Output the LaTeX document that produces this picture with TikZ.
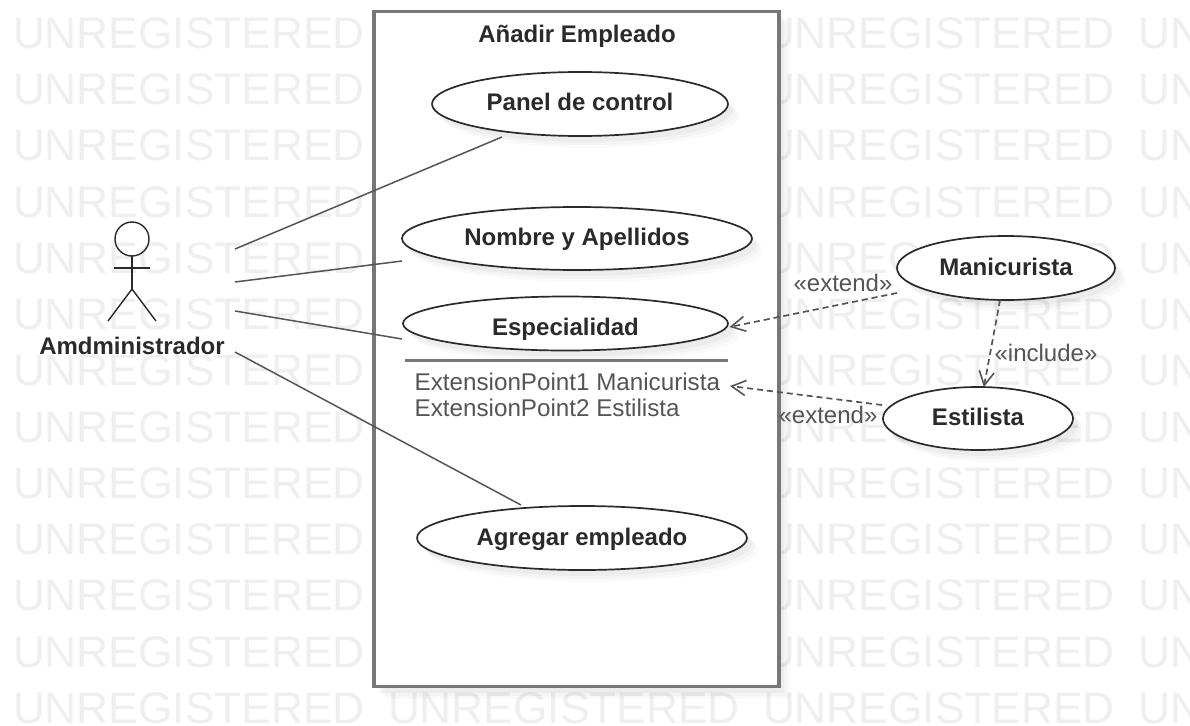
\documentclass[tikz,border=0pt]{standalone}
\usepackage{fontspec}
\setmainfont{Liberation Sans}
\usetikzlibrary{arrows.meta,shapes.geometric,shadows}
\definecolor{wmark}{HTML}{EFEFEF}
\definecolor{inkc}{HTML}{2A2A2A}
\definecolor{linec}{HTML}{555555}
\definecolor{framec}{HTML}{777777}
\newcommand{\uctext}[2]{\raisebox{#1}[0pt][0pt]{#2}}
\tikzset{
  softshadow/.style={
    general shadow={fill=black,opacity=.02,shadow xshift=11pt,shadow yshift=-12pt},
    general shadow={fill=black,opacity=.025,shadow xshift=8pt,shadow yshift=-9pt},
    general shadow={fill=black,opacity=.03,shadow xshift=5pt,shadow yshift=-6pt}},
  usecase/.style={ellipse,draw=inkc,line width=1.7pt,fill=white,inner sep=0pt,outer sep=0pt,
    text=inkc,font=\fontsize{24}{28}\selectfont\bfseries,softshadow},
  watermark/.style={inner sep=0pt,outer sep=0pt,text=wmark,anchor=west,font=\fontsize{44.3}{50}\selectfont},
  plainlabel/.style={inner sep=0pt,text=linec,font=\fontsize{24}{28}\selectfont},
  boldlabel/.style={inner sep=0pt,text=inkc,font=\fontsize{24}{28}\selectfont\bfseries},
  assoc/.style={draw=linec,line width=1.5pt},
  stereo/.style={draw=linec,line width=1.7pt,dash pattern=on 6pt off 4pt,
    -{Straight Barb[length=14pt,width=15pt,line width=1.6pt,sep=0pt]}},
  stick/.style={draw=inkc,line width=1.4pt}
}
\begin{document}
\begin{tikzpicture}[x=1pt,y=-1pt]
\useasboundingbox (0,0) rectangle (1190,725);
\clip (0,0) rectangle (1190,725);
\fill[white] (0,0) rectangle (1190,725);
% watermark
\foreach \r in {0,...,12}{
  \foreach \c in {0,...,3}{
    \node[watermark] (wm-\r-\c) at ({13+375*\c},{33+56.25*\r}) {UNREGISTERED};
  }
}
% system boundary
\node[draw=framec,line width=3.5pt,fill=white,minimum width=405pt,minimum height=675pt,
      inner sep=0pt,outer sep=0pt,softshadow] (system) at (576.5,349) {};
\node[boldlabel] (title) at (577,36) {Añadir Empleado};
% use cases
\node[usecase,minimum width=296pt,minimum height=64pt] (panel) at (580,104) {\uctext{-6.6pt}{Panel de control}};
\node[usecase,minimum width=350pt,minimum height=63pt] (nombre) at (577,238.5) {\uctext{-7.1pt}{Nombre y Apellidos}};
\node[usecase,minimum width=325pt,minimum height=54pt] (espec) at (565.5,323.5) {\uctext{-11.6pt}{Especialidad}};
\node[usecase,minimum width=330pt,minimum height=64pt] (agregar) at (582,538) {\uctext{-7.6pt}{Agregar empleado}};
\node[usecase,minimum width=218pt,minimum height=64pt] (mani) at (1006,268) {\uctext{-7.6pt}{Manicurista}};
\node[usecase,minimum width=190pt,minimum height=63pt] (esti) at (978,418.5) {\uctext{-7.1pt}{Estilista}};
% extension points
\coordinate (sepL) at (405,360.5);
\coordinate (sepR) at (728,360.5);
\draw[draw=framec,line width=3pt] (sepL) -- (sepR);
\node[plainlabel,anchor=west,font=\fontsize{24.2}{28}\selectfont] (ext1) at (414.5,382) {ExtensionPoint1 Manicurista};
\node[plainlabel,anchor=west,font=\fontsize{24.2}{28}\selectfont] (ext2) at (414.5,408) {ExtensionPoint2 Estilista};
% actor
\node[circle,draw=inkc,line width=1.4pt,minimum size=34pt,inner sep=0pt,outer sep=0pt] (head) at (132,239) {};
\coordinate (armL) at (114,268);
\coordinate (armR) at (150,268);
\coordinate (hip) at (132,289);
\coordinate (footL) at (108,321);
\coordinate (footR) at (156,321);
\draw[stick] (head.south) -- (hip);
\draw[stick] (armL) -- (armR);
\draw[stick] (footL) -- (hip) -- (footR);
\node[boldlabel,fill=white,inner xsep=0pt] (actor) at (132,346) {Amdministrador};
% associations
\coordinate (a1) at (235,249);
\coordinate (a2) at (235,282);
\coordinate (a3) at (235,311);
\coordinate (a4) at (235,352);
\coordinate (panelEnd) at (502,137);
\coordinate (nombreEnd) at (402,261);
\coordinate (espEnd) at (402,339);
\coordinate (agregarEnd) at (521,505);
\draw[assoc] (a1) -- (panelEnd);
\draw[assoc] (a2) -- (nombreEnd);
\draw[assoc] (a3) -- (espEnd);
\draw[assoc] (a4) -- (agregarEnd);
% dependencies
\coordinate (outA) at (897,293);
\coordinate (outB) at (882,405);
\coordinate (tipA) at (729.5,327);
\coordinate (tipB) at (730,386);
\draw[stereo] (outA) -- (tipA);
\draw[stereo] (outB) -- (tipB);
\draw[stereo] (mani) -- (esti);
\node[plainlabel] (lblA) at (843,283) {«extend»};
\node[plainlabel] (lblB) at (828,415) {«extend»};
\node[plainlabel] (lblC) at (1046,353) {«include»};
\end{tikzpicture}
\end{document}
